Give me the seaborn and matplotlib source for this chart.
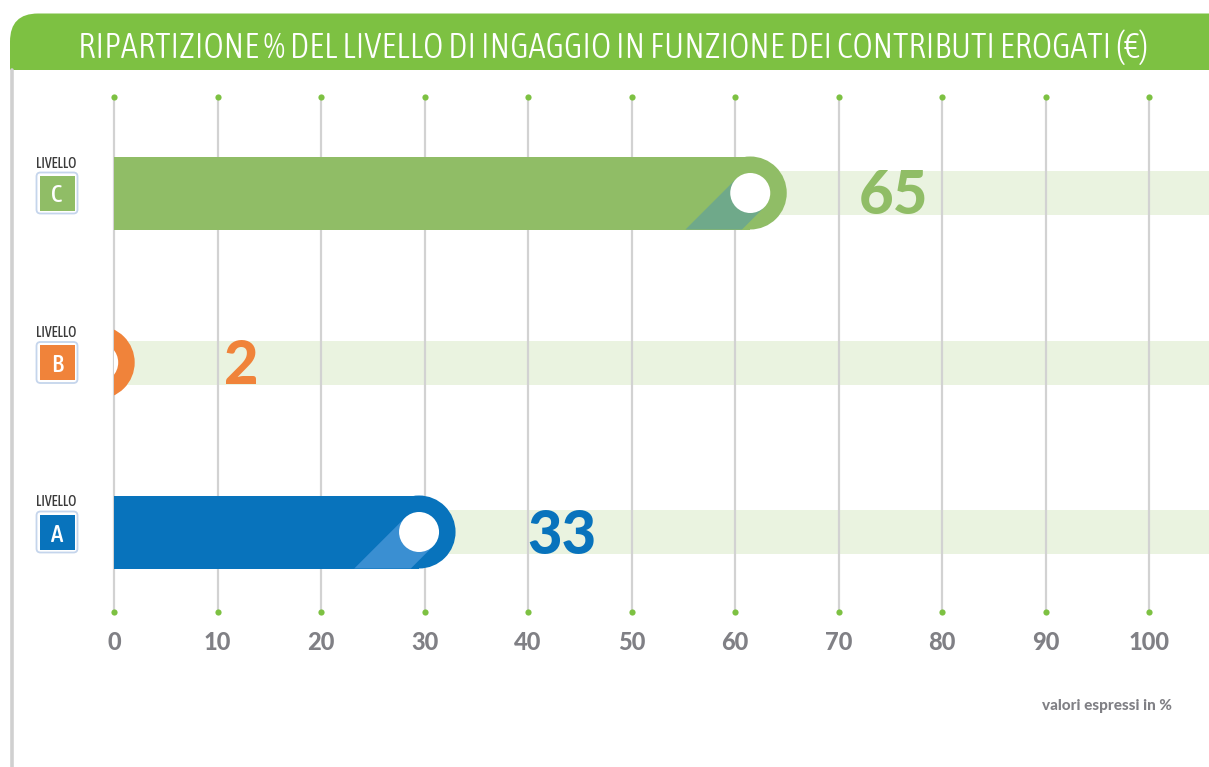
import matplotlib
matplotlib.use("Agg")
import matplotlib.pyplot as plt
import matplotlib.transforms as mtransforms
from matplotlib.patches import Ellipse, Rectangle, FancyBboxPatch, Polygon
from matplotlib import font_manager
from matplotlib.font_manager import FontProperties
import seaborn as sns
import pandas as pd
import numpy as np

# ---------------- data ----------------
title = "RIPARTIZIONE % DEL LIVELLO DI INGAGGIO IN FUNZIONE DEI CONTRIBUTI EROGATI (€)"
levels = ["C", "B", "A"]
values = [65, 2, 33]
value_labels = ["65", "2", "33"]
ticks = [0, 10, 20, 30, 40, 50, 60, 70, 80, 90, 100]
tick_labels = [str(t) for t in ticks]
level_caption = "LIVELLO"
note = "valori espressi in %"

bar_colors = ["#90bd66", "#f0833a", "#0873bc"]
shadow_colors = ["#6fa98a", "#f0833a", "#3a8fd2"]
green = "#7dc142"
track_color = "#eaf3e0"
grid_color = "#d2d2d2"
gray_text = "#808085"

# ---------------- geometry (pixels) ----------------
W, H = 1209, 767
X0, XS = 114.0, 10.35      # pixel of value 0, pixels per unit
Y0, YS = 193.0, 169.5      # pixel of first category, pixels per category
BAR_PX = 73.0
TRACK_PX = 44.0
KNOB_R = 20.0

sns.set_theme(style="white")
plt.rcParams["font.family"] = ["DejaVu Sans"]


def wnum(wv):
    if isinstance(wv, (int, float)):
        return int(wv)
    return font_manager.weight_dict.get(str(wv).lower(), 400)


ttf = font_manager.fontManager.ttflist


def find_condensed(target_weight):
    best = None
    for f in ttf:
        if f.style != "normal":
            continue
        low = (f.fname + " " + f.name).lower()
        if not ("condensed" in low or "narrow" in low or f.stretch == "condensed"):
            continue
        if "italic" in low or "oblique" in low:
            continue
        score = abs(wnum(f.weight) - target_weight)
        if best is None or score < best[0]:
            best = (score, f.fname)
    return FontProperties(fname=best[1]) if best else FontProperties(family="DejaVu Sans")


def find_heavy():
    best = None
    for fam in ["Lato", "Roboto", "Inter", "Open Sans", "Noto Sans"]:
        for f in ttf:
            if f.name != fam or f.style != "normal":
                continue
            low = f.fname.lower()
            if "italic" in low or "condensed" in low:
                continue
            w = wnum(f.weight)
            if best is None or w > best[0]:
                best = (w, f.fname)
        if best and best[0] >= 900:
            break
    return FontProperties(fname=best[1]) if best else FontProperties(family="DejaVu Sans", weight="bold")


title_fp = find_condensed(300)
cond_fp = find_condensed(400)
caption_fp = find_condensed(550)
heavy_fp = find_heavy()

df = pd.DataFrame({"level": levels, "value": values})

fig = plt.figure(figsize=(W / 100, H / 100), dpi=100)
fig.patch.set_facecolor("white")
ax = fig.add_axes([0, 0, 1, 1])
pix = mtransforms.Affine2D().scale(1, -1).translate(0, H)

sns.barplot(data=df, x="value", y="level", hue="level", order=levels, hue_order=levels,
            palette=bar_colors, legend=False, orient="h", width=BAR_PX / YS,
            errorbar=None, saturation=1, ax=ax, zorder=3, linewidth=0)
bars = list(ax.patches)

ax.set_xlim(-X0 / XS, (W - X0) / XS)
ax.set_ylim((H - Y0) / YS, -Y0 / YS)
ax.set_axis_off()

# background tracks
ax.barh(np.arange(len(levels)), 115, left=0, height=TRACK_PX / YS, color=track_color,
        zorder=1, linewidth=0)

# grid lines with green dots
y_top = (97 - Y0) / YS
y_bot = (612 - Y0) / YS
ax.vlines(ticks, y_top, y_bot, colors=grid_color, linewidth=1.6, zorder=2)
ax.scatter(ticks, [y_top] * len(ticks), s=20, color=green, zorder=2.5, linewidths=0)
ax.scatter(ticks, [y_bot] * len(ticks), s=20, color=green, zorder=2.5, linewidths=0)

# clip region x >= 0
clip = Rectangle((0, -5), 200, 10, transform=ax.transData)

r_x = (BAR_PX / 2) / XS
kx = KNOB_R / XS
ky = KNOB_R / YS
a = KNOB_R / np.sqrt(2)

for p in bars:
    x0 = p.get_x(); w = p.get_width(); y = p.get_y(); h = p.get_height()
    yc = y + h / 2
    k = int(round(yc))
    col = p.get_facecolor()
    cx = x0 + w - r_x
    p.set_width(max(cx - x0, 0))
    cap = Ellipse((cx, yc), 2 * r_x, h, facecolor=col, edgecolor="none", zorder=3)
    ax.add_patch(cap)
    cap.set_clip_path(clip)
    # diagonal shadow of the knob
    r_px = BAR_PX / 2
    t1 = r_px - a
    t2 = r_px + a
    yb = yc + h / 2
    poly = [(cx - a / XS, yc - a / YS), (cx + a / XS, yc + a / YS),
            (cx + (a - t1) / XS, yb), (cx - (a + t2) / XS, yb)]
    sh = Polygon(poly, closed=True, facecolor=shadow_colors[k], edgecolor="none", zorder=4)
    ax.add_patch(sh)
    sh.set_clip_path(clip)
    knob = Ellipse((cx, yc), 2 * kx, 2 * ky, facecolor="white", edgecolor="none", zorder=5)
    ax.add_patch(knob)
    knob.set_clip_path(clip)
    # value label
    tr = mtransforms.offset_copy(ax.transData, fig=fig, x=0, y=-21.5, units="dots")
    ax.text(w + 10.3, yc, value_labels[k], transform=tr, ha="center", va="baseline",
            color=bar_colors[k], fontproperties=heavy_fp, fontsize=43, zorder=6)

    # level boxes on the left
    ycp = Y0 + YS * yc
    fig.text(56.5, ycp - 25.5, level_caption, transform=pix, ha="center", va="baseline",
             color="#3a3a3a", fontproperties=caption_fp, fontsize=10)
    outer = FancyBboxPatch((36.5, ycp - 20.5), 41, 41, boxstyle="round,pad=0,rounding_size=4",
                           transform=pix, facecolor="white", edgecolor="#c5d5ec", linewidth=1.3)
    fig.add_artist(outer)
    inner = Rectangle((39.5, ycp - 17.5), 35, 35, transform=pix, facecolor=bar_colors[k], edgecolor="none")
    fig.add_artist(inner)
    fig.text(57, ycp + 9.5, levels[k], transform=pix, ha="center", va="baseline",
             color="white", fontproperties=caption_fp, fontsize=18)

# tick labels
tick_tr = mtransforms.blended_transform_factory(ax.transData, pix)
for t, lab in zip(ticks, tick_labels):
    ax.text(t, 649.5, lab, transform=tick_tr, ha="center", va="baseline", color=gray_text,
            fontproperties=heavy_fp, fontsize=17)

# note
fig.text(1172, 710, note, transform=pix, ha="right", va="baseline", color=gray_text,
         fontproperties=heavy_fp, fontsize=11)

# title banner
banner_clip = Rectangle((0, 13), W, 57, transform=pix)
banner = FancyBboxPatch((10, 13.5), 1240, 120, boxstyle="round,pad=0,rounding_size=28",
                        transform=pix, facecolor=green, edgecolor="none")
fig.add_artist(banner)
banner.set_clip_path(banner_clip)
left_line = plt.Line2D([12, 12], [70, H], transform=pix, color="#d0d0d0", linewidth=2.6)
fig.add_artist(left_line)

tt = fig.text(613, 58, title, transform=pix, ha="center", va="baseline", color="white",
              fontproperties=title_fp, fontsize=24)
fig.canvas.draw()
bb = tt.get_window_extent(renderer=fig.canvas.get_renderer())
tt.set_fontsize(24 * 1070.0 / bb.width)

fig.savefig("out.png", dpi=100, facecolor="white")
